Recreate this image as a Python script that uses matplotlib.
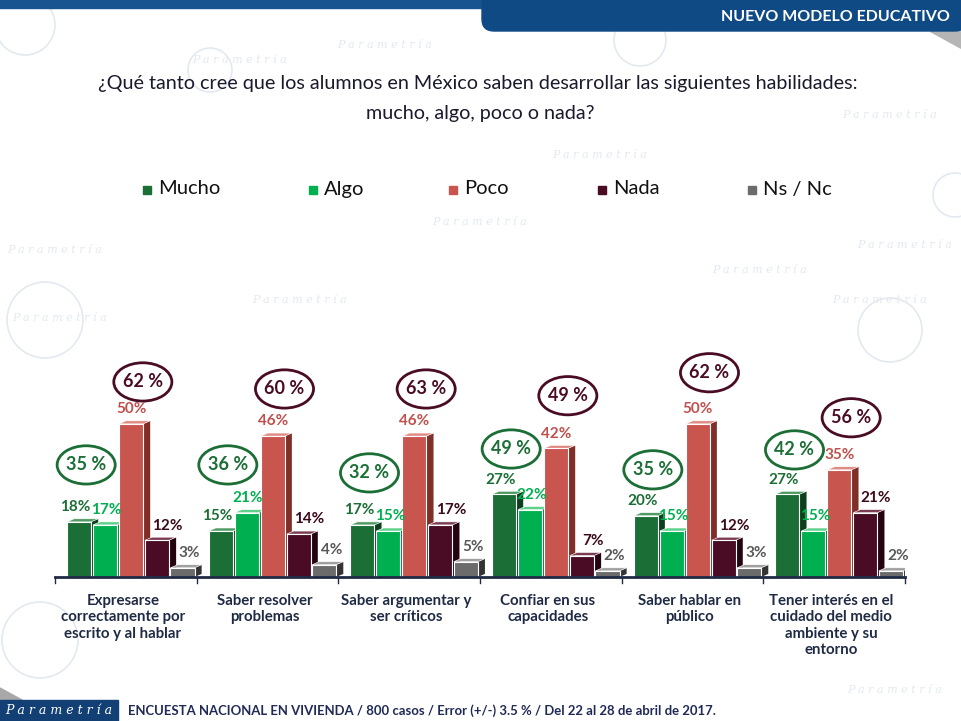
import matplotlib
matplotlib.use("Agg")
import matplotlib.pyplot as plt
from matplotlib.patches import Polygon, Ellipse, Rectangle, FancyBboxPatch

# ---- data ----
categories = [
    "Expresarse\ncorrectamente por\nescrito y al hablar",
    "Saber resolver\nproblemas",
    "Saber argumentar y\nser críticos",
    "Confiar en sus\ncapacidades",
    "Saber hablar en\npúblico",
    "Tener interés en el\ncuidado del medio\nambiente y su\nentorno",
]
series_names = ["Mucho", "Algo", "Poco", "Nada", "Ns / Nc"]
mucho = [18, 15, 17, 27, 20, 27]
algo = [17, 21, 15, 22, 15, 15]
poco = [50, 46, 46, 42, 50, 35]
nada = [12, 14, 17, 7, 12, 21]
ns_nc = [3, 4, 5, 2, 3, 2]
mucho_algo = [35, 36, 32, 49, 35, 42]
poco_nada = [62, 60, 63, 49, 62, 56]

# ---- styles / layout ----
face_colors = ["#1b6e35", "#00b050", "#c9554f", "#4a0c24", "#6b6b6b"]
side_colors = ["#0e3f1d", "#00773a", "#7f2f28", "#26040f", "#333333"]
top_colors = ["#4f9a62", "#5fd08a", "#e08a84", "#7a3c52", "#a0a0a0"]
label_colors = ["#1b6e35", "#00b050", "#c0504d", "#3b0a1c", "#595959"]
green_ring = "#1b6e35"
maroon_ring = "#4a0c24"
navy = "#1f2a44"

bar_offsets = [-0.33, -0.147, 0.037, 0.22, 0.40]
label_shift = [-0.025, 0.01, 0.0, 0.075, 0.05]
bar_w = 0.17
dx, dy = 0.05, 1.0
green_y = [36.6, 36.6, 34.0, 41.8, 35.0, 41.5]
maroon_y = [63.7, 61.4, 61.4, 59.2, 66.7, 52.0]

plt.rcParams["font.family"] = ["Lato", "DejaVu Sans"]

fig = plt.figure(figsize=(9.61, 7.21), dpi=100)
fig.patch.set_facecolor("white")

# background / decoration axes in pixel coordinates
bg = fig.add_axes([0, 0, 1, 1])
bg.set_xlim(0, 961)
bg.set_ylim(721, 0)
bg.axis("off")

# faint watermark (kept clear of the real texts)
wm = "#e3e9f1"
for x, y in [(385, 45), (890, 115), (240, 60), (600, 155), (480, 222),
             (760, 270), (55, 250), (905, 245), (60, 318), (880, 300),
             (895, 690), (300, 300)]:
    bg.text(x, y, "P a r a m e t r í a", color=wm, fontsize=8, style="italic",
            family="DejaVu Serif", ha="center", va="center", zorder=0)
for cx, cy, r in [(25, 25, 30), (210, 70, 22), (45, 320, 38), (40, 640, 38),
                  (890, 330, 32), (955, 195, 22), (640, 40, 26)]:
    bg.add_patch(Ellipse((cx, cy), 2 * r, 2 * r, fill=False, ec=wm, lw=1.2, zorder=0))

# header band + banner
bg.add_patch(Rectangle((0, 0), 961, 8, color="#1a5490", zorder=2))
bg.add_patch(Polygon([(930, 31), (961, 31), (961, 48)], closed=True, color="#b5b5b5", zorder=1))
bg.add_patch(FancyBboxPatch((482, -20), 485, 51, boxstyle="round,pad=0,rounding_size=12",
                            color="#0f4a85", zorder=2))
bg.text(950, 17, "NUEVO MODELO EDUCATIVO", color="white", fontsize=11.5,
        fontweight="bold", ha="right", va="center", zorder=3)

# title
bg.text(478, 83, "¿Qué tanto cree que los alumnos en México saben desarrollar las siguientes habilidades:",
        fontsize=14.2, color="#1a1a2e", ha="center", va="center")
bg.text(480, 114, "mucho, algo, poco o nada?", fontsize=14.2, color="#1a1a2e",
        ha="center", va="center")

# legend
legend_sq_x = [147, 313, 453, 602, 752]
for name, color, sx in zip(series_names, face_colors, legend_sq_x):
    bg.add_patch(Rectangle((sx - 4, 186), 8, 8, color=color, zorder=3))
    bg.text(sx + 11, 189, name, fontsize=14.5, color="#111111", ha="left", va="center")

# footer
bg.add_patch(Polygon([(0, 688), (22, 700), (0, 700)], closed=True, color="#a8a8a8", zorder=1))
bg.add_patch(Rectangle((0, 700), 118, 21, color="#123f74", zorder=2))
bg.text(59, 710, "P a r a m e t r í a", color="white", fontsize=9, style="italic",
        family="DejaVu Serif", ha="center", va="center", zorder=3)
bg.text(128, 711, "ENCUESTA NACIONAL EN VIVIENDA / 800 casos / Error (+/-) 3.5 % / Del 22 al 28 de abril de 2017.",
        fontsize=9.45, fontweight="bold", color="#1f2a56", ha="left", va="center",
        family=["Liberation Sans Narrow", "Lato", "DejaVu Sans"])

# ---- main chart ----
ax = fig.add_axes([55 / 961, 144 / 721, 850 / 961, 245 / 721])
ax.set_xlim(-0.5, 5.5)
ax.set_ylim(0, 80)
ax.axis("off")


def bar3d(x0, h, k):
    ax.add_patch(Polygon([(x0 + bar_w, 0), (x0 + bar_w + dx, dy), (x0 + bar_w + dx, h + dy),
                          (x0 + bar_w, h)], closed=True, fc=side_colors[k], ec="none", zorder=3))
    ax.add_patch(Polygon([(x0, h), (x0 + dx, h + dy), (x0 + bar_w + dx, h + dy), (x0 + bar_w, h)],
                         closed=True, fc=top_colors[k], ec="white", lw=0.4, zorder=3))
    ax.add_patch(Rectangle((x0, 0), bar_w, h, fc=face_colors[k], ec="white", lw=0.8, zorder=4))


series = [mucho, algo, poco, nada, ns_nc]
for i in range(len(categories)):
    for k, vals in enumerate(series):
        x0 = i + bar_offsets[k] - bar_w / 2
        bar3d(x0, vals[i], k)
        ax.text(i + bar_offsets[k] + label_shift[k], vals[i] + dy + 1.5, f"{vals[i]}%",
                fontsize=11, fontweight="bold", color=label_colors[k],
                ha="center", va="bottom", zorder=6)

    ax.add_patch(Ellipse((i - 0.28, green_y[i]), 0.41, 12.5, fill=False,
                         ec=green_ring, lw=2, zorder=5))
    ax.text(i - 0.28, green_y[i], f"{mucho_algo[i]} %", fontsize=13, fontweight="bold",
            color=green_ring, ha="center", va="center", zorder=6)
    ax.add_patch(Ellipse((i + 0.12, maroon_y[i]), 0.41, 12.5, fill=False,
                         ec=maroon_ring, lw=2, zorder=5))
    ax.text(i + 0.12, maroon_y[i], f"{poco_nada[i]} %", fontsize=13, fontweight="bold",
            color=maroon_ring, ha="center", va="center", zorder=6)

    ax.text(i - 0.02, -5.5, categories[i], fontsize=10.8, fontweight="bold", color=navy,
            ha="center", va="top", linespacing=1.22)

# baseline and group ticks
ax.plot([-0.5, 5.5], [0, 0], color=navy, lw=2, zorder=7, clip_on=False)
for b in range(7):
    ax.plot([b - 0.5, b - 0.5], [0, -2], color=navy, lw=1, zorder=7, clip_on=False)

fig.savefig("out.png", dpi=100)
